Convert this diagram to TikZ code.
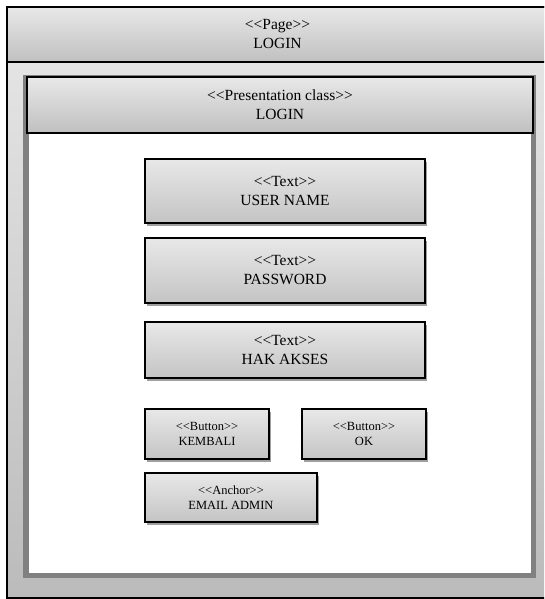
\documentclass[tikz,border=0pt]{standalone}
\usepackage{fontspec}
\setmainfont{Liberation Serif}
\usetikzlibrary{shadows}
\definecolor{hdrtop}{HTML}{E8E8E8}
\definecolor{hdrbot}{HTML}{C0C0C0}
\definecolor{boxtop}{HTML}{E8E8E8}
\definecolor{boxbot}{HTML}{C4C4C4}
\definecolor{frametop}{HTML}{E8E8E8}
\definecolor{framebot}{HTML}{BBBBBB}
\definecolor{pgrey}{HTML}{808080}
\newcommand{\stereo}[1]{<{}<#1>{}>}
\begin{document}
\begin{tikzpicture}[x=1pt,y=-1pt,
  every node/.style={rectangle, inner sep=0pt, outer sep=0pt, align=center},
  bigtext/.style={font=\fontsize{15.5}{19}\selectfont},
  outerframe/.style={draw=black, line width=1.2pt, top color=frametop, bottom color=framebot},
  hdr/.style={draw=black, line width=1.5pt, top color=hdrtop, bottom color=hdrbot, bigtext},
  greyframe/.style={fill=pgrey, draw=none},
  whitebody/.style={fill=white, draw=none},
  uibox/.style={draw=black, line width=1.5pt, top color=boxtop, bottom color=boxbot,
    drop shadow={shadow xshift=2pt, shadow yshift=-3pt, fill=gray!75, opacity=1},
    bigtext},
  smallbox/.style={uibox, font=\fontsize{12.5}{15.5}\selectfont}
]
\useasboundingbox (0,0) rectangle (544,599);
\begin{scope}
\clip (0,0) rectangle (544,599);
% outer page frame (its right edge lies beyond the picture)
\node[outerframe, minimum width=553pt, minimum height=591pt] (page) at (283.5,302.5) {};
\node[hdr, minimum width=553pt, minimum height=55pt] (pagehdr) at (283.5,34.5) {};
\end{scope}
\node[bigtext] (pagetitle) at (277.5,34.5) {\stereo{Page}\\LOGIN};
% presentation class frame
\node[greyframe, minimum width=513pt, minimum height=503pt] (pres) at (279.5,326.5) {};
\node[whitebody, minimum width=502pt, minimum height=440pt] (presbody) at (280,353) {};
\node[hdr, minimum width=506pt, minimum height=56pt] (preshdr) at (280,105) {\stereo{Presentation class}\\LOGIN};
% elements
\node[uibox, minimum width=280pt, minimum height=64pt] (user) at (285,191) {\stereo{Text}\\USER NAME};
\node[uibox, minimum width=280pt, minimum height=65pt] (pass) at (285,270.5) {\stereo{Text}\\PASSWORD};
\node[uibox, minimum width=280pt, minimum height=56pt] (hak) at (285,350) {\stereo{Text}\\HAK AKSES};
\node[smallbox, minimum width=124pt, minimum height=50pt] (kembali) at (207,434) {\stereo{Button}\\KEMBALI};
\node[smallbox, minimum width=124pt, minimum height=50pt] (ok) at (364,434) {\stereo{Button}\\OK};
\node[smallbox, minimum width=172pt, minimum height=49pt] (email) at (231,497.5) {\stereo{Anchor}\\EMAIL ADMIN};
\end{tikzpicture}
\end{document}
